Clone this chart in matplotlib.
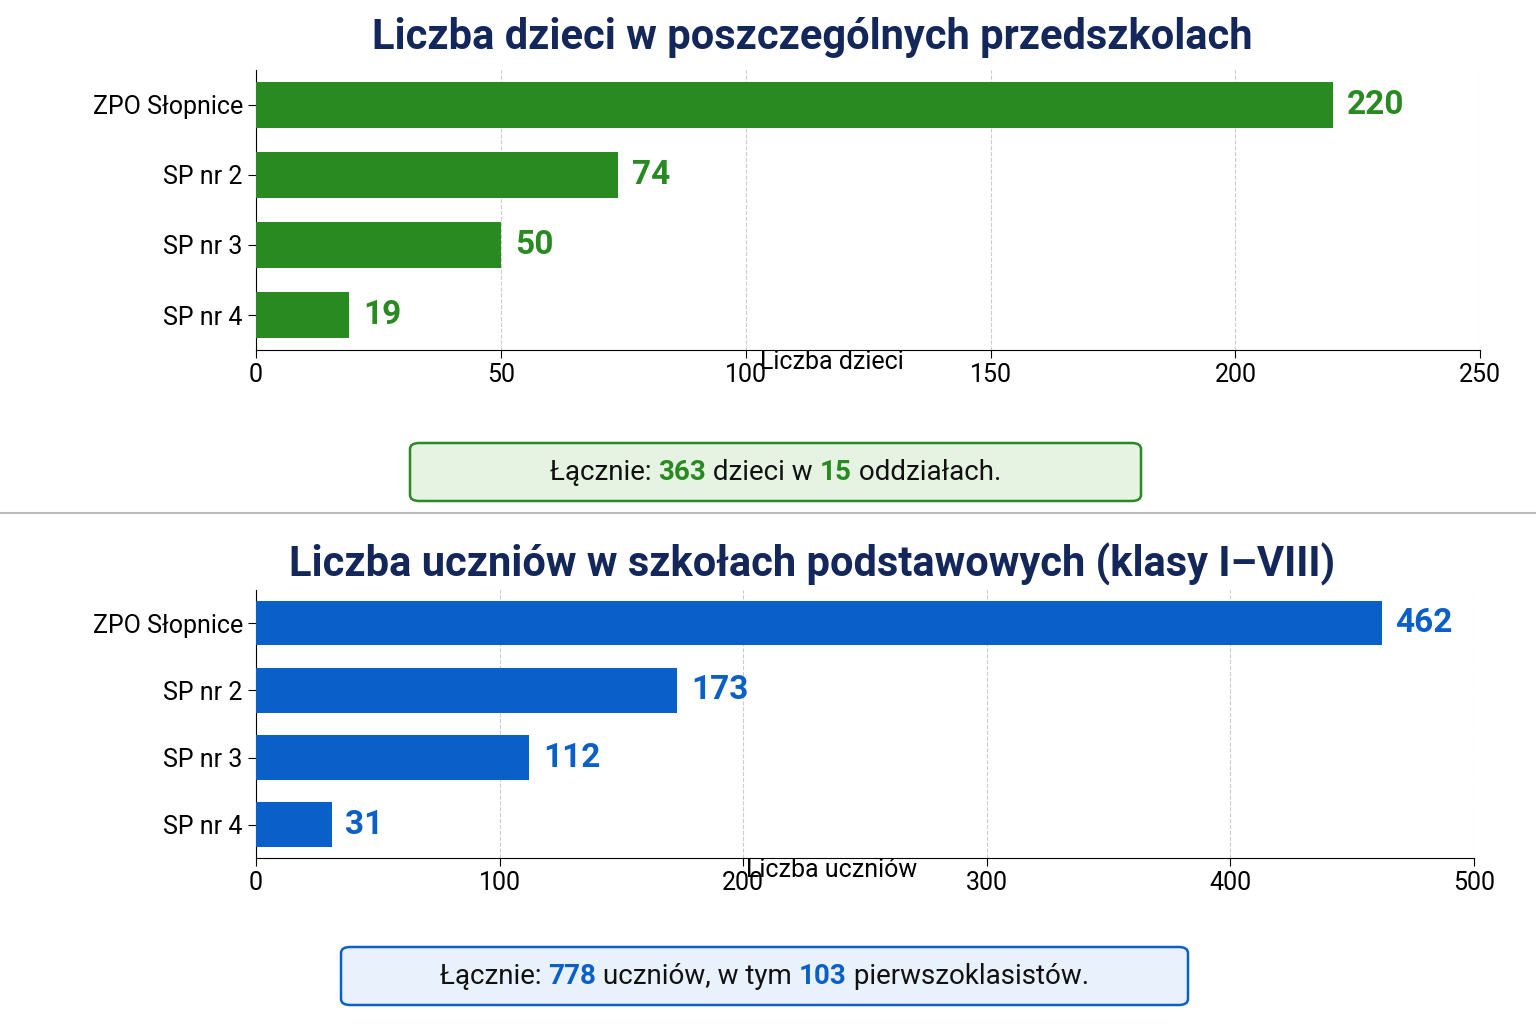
import matplotlib
matplotlib.use("Agg")
import matplotlib.pyplot as plt
from matplotlib.patches import FancyBboxPatch
from matplotlib.lines import Line2D

plt.rcParams['font.family'] = ['Roboto', 'DejaVu Sans']

schools = ["ZPO Słopnice", "SP nr 2", "SP nr 3", "SP nr 4"]
children = [220, 74, 50, 19]
pupils = [462, 173, 112, 31]
total_children, groups = 363, 15
total_pupils, first_graders = 778, 103

GREEN = "#2a8a22"
BLUE = "#0a5fc8"
NAVY = "#14275a"

fig = plt.figure(figsize=(15.36, 10.24), dpi=100)
W, H = 1536, 1024

def panel(rect, vals, color, xmax, step, xlabel, title, title_y):
    ax = fig.add_axes(rect)
    y = list(range(len(schools)))[::-1]
    ax.barh(y, vals, height=0.66, color=color, zorder=3)
    for yi, v in zip(y, vals):
        ax.annotate(str(v), (v, yi), xytext=(10, 0), textcoords="offset points",
                    va="center", ha="left", fontsize=24, fontweight="bold", color=color)
    ax.set_yticks(y)
    ax.set_yticklabels(schools, fontsize=18)
    ax.set_xlim(0, xmax)
    ax.set_ylim(-0.5, 3.5)
    ax.set_xticks(range(0, xmax + 1, step))
    ax.tick_params(axis='x', labelsize=18, length=6)
    ax.tick_params(axis='y', length=6)
    ax.grid(axis='x', linestyle='--', color='#cccccc', zorder=0)
    for s in ["top", "right"]:
        ax.spines[s].set_visible(False)
    ax.set_xlabel(xlabel, fontsize=18, labelpad=8)
    ax.xaxis.set_label_coords((832 - 256) / (rect[2] * W), ax.xaxis.label.get_position()[1])
    ax.xaxis.label.set_position(((832 - 256) / (rect[2] * W), 0))
    fig.text(812 / W, 1 - title_y / H, title, fontsize=30, fontweight="bold",
             color=NAVY, ha="center", va="center")
    return ax

panel([0.1667, 0.658, 0.797, 0.274], children, GREEN, 250, 50, "Liczba dzieci",
      "Liczba dzieci w poszczególnych przedszkolach", 38)
panel([0.1667, 0.162, 0.793, 0.262], pupils, BLUE, 500, 100, "Liczba uczniów",
      "Liczba uczniów w szkołach podstawowych (klasy I–VIII)", 564)

fig.add_artist(Line2D([0, 1], [1 - 513/1024] * 2, color="#bbbbbb", lw=1.5))

def box(x0, y0, x1, y1, face, edge, parts, color):
    p = FancyBboxPatch((x0 / W, 1 - y1 / H), (x1 - x0) / W, (y1 - y0) / H,
                       boxstyle="round,pad=0,rounding_size=0.006", transform=fig.transFigure,
                       facecolor=face, edgecolor=edge, lw=1.8)
    fig.add_artist(p)
    r = fig.canvas.get_renderer()
    texts = []
    for s, hl in parts:
        t = fig.text(0, 1 - (y0 + y1) / 2 / H, s, fontsize=20, va="center", ha="left",
                     color=color if hl else "#111111", fontweight="bold" if hl else "normal")
        texts.append(t)
    widths = [t.get_window_extent(r).width for t in texts]
    x = (x0 + x1) / 2 - sum(widths) / 2
    for t, w in zip(texts, widths):
        t.set_x(x / W)
        x += w

box(410, 443, 1141, 501, "#e6f2e2", GREEN,
    [("Łącznie: ", False), (str(total_children), True), (" dzieci w ", False),
     (str(groups), True), (" oddziałach.", False)], GREEN)
box(341, 947, 1188, 1005, "#e8f1fc", BLUE,
    [("Łącznie: ", False), (str(total_pupils), True), (" uczniów, w tym ", False),
     (str(first_graders), True), (" pierwszoklasistów.", False)], BLUE)

fig.savefig("out.png", dpi=100)
